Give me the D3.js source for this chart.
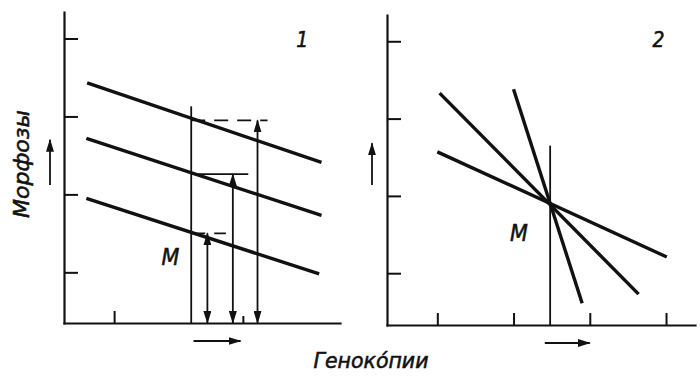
<!DOCTYPE html>
<html>
<head>
<meta charset="utf-8">
<script src="https://cdn.jsdelivr.net/npm/d3@7"></script>
<style>
  body { margin: 0; background: #fff; }
  text { font-family: "DejaVu Sans Condensed", "DejaVu Sans", sans-serif; font-style: italic; fill: #111; stroke: #111; stroke-width: 0.5; }
</style>
</head>
<body>
<script>
//Width and height
var w = 700;
var h = 377;

//Tick positions (same units on both panels)
var yTicks = [1, 2, 3, 4];
var p1XTicks = [1];
var p1XMinorTicks = [2.67];
var p2XTicks = [1, 2, 3, 4];

//Panel 1: three parallel norms of reaction
var p1Lines = [
  [[0.65, 3.43], [3.69, 2.41]],
  [[0.64, 2.72], [3.69, 1.73]],
  [[0.64, 1.95], [3.66, 0.98]]
];
var p1M = 2.0, p1MTop = 3.13;
var p1ArrowX = [2.21, 2.54, 2.86];
var p1Levels = [1.50, 2.26, 2.95];
var p1LevelEnd = [2.45, 2.74, 2.99];
var p1LevelDashed = [true, false, true];

//Panel 2: norms crossing at M
var p2Lines = [
  [[1.00, 2.57], [4.01, 1.21]],
  [[1.03, 3.33], [3.64, 0.73]],
  [[2.00, 3.38], [2.90, 0.61]]
];
var p2M = 2.48, p2MTop = 2.65;

//Labels
var panelNames = ["1", "2"];
var yLabel = "Морфозы";
var xLabel = "Геноко\u0301пии";
var mLabel = "М";

var ink = "#111";

//Create SVG element
var svg = d3.select("body")
            .append("svg")
            .attr("width", w)
            .attr("height", h);

//Arrow head marker
svg.append("defs").append("marker")
   .attr("id", "head")
   .attr("viewBox", "0 0 13 8")
   .attr("refX", 12)
   .attr("refY", 4)
   .attr("markerWidth", 13)
   .attr("markerHeight", 8)
   .attr("markerUnits", "userSpaceOnUse")
   .attr("orient", "auto-start-reverse")
   .append("path")
   .attr("d", "M0,0L13,4L0,8Z")
   .attr("fill", ink);

//Scales for each panel
var x1 = d3.scaleLinear().domain([0.35, 3.93]).range([64, 340]);
var y1 = d3.scaleLinear().domain([0.35, 4.34]).range([323, 12]);
var x2 = d3.scaleLinear().domain([0.34, 4.38]).range([387, 695]);
var y2 = d3.scaleLinear().domain([0.33, 4.34]).range([325, 15]);

function drawAxes(x, y, xTicks) {
  var g = svg.append("g");
  g.append("g")
   .attr("transform", "translate(" + x.range()[0] + ",0)")
   .call(d3.axisRight(y).tickValues(yTicks).tickSize(14).tickSizeOuter(0).tickFormat(""));
  g.append("g")
   .attr("transform", "translate(0," + y.range()[0] + ")")
   .call(d3.axisTop(x).tickValues(xTicks).tickSize(12).tickSizeOuter(0).tickFormat(""));
  g.selectAll("path.domain").attr("stroke", ink).attr("stroke-width", 2.2).attr("stroke-linecap", "square");
  g.selectAll(".tick line").attr("stroke", ink).attr("stroke-width", 2);
  return g;
}

function arrow(x0, y0, xEnd, yEnd, both) {
  var l = svg.append("line")
     .attr("x1", x0).attr("y1", y0)
     .attr("x2", xEnd).attr("y2", yEnd)
     .attr("stroke", ink)
     .attr("stroke-width", 1.8)
     .attr("marker-end", "url(#head)");
  if (both) l.attr("marker-start", "url(#head)");
}

function drawNorms(x, y, lines) {
  var line = d3.line().x(function(d) { return x(d[0]); }).y(function(d) { return y(d[1]); });
  svg.selectAll(null)
     .data(lines)
     .enter()
     .append("path")
     .attr("d", line)
     .attr("fill", "none")
     .attr("stroke", ink)
     .attr("stroke-width", 3.4);
}

//Panel 1
drawAxes(x1, y1, p1XTicks);
svg.append("g")
   .attr("transform", "translate(0," + y1.range()[0] + ")")
   .call(d3.axisTop(x1).tickValues(p1XMinorTicks).tickSize(7).tickFormat(""))
   .call(function(g) { g.select(".domain").remove(); })
   .selectAll(".tick line").attr("stroke", ink).attr("stroke-width", 2);

drawNorms(x1, y1, p1Lines);

svg.append("line")
   .attr("x1", x1(p1M)).attr("x2", x1(p1M))
   .attr("y1", y1(p1MTop)).attr("y2", y1.range()[0])
   .attr("stroke", ink).attr("stroke-width", 1.8);

svg.selectAll(null)
   .data(p1Levels)
   .enter()
   .append("line")
   .attr("x1", x1(p1M))
   .attr("x2", function(d, i) { return x1(p1LevelEnd[i]); })
   .attr("y1", function(d) { return y1(d); })
   .attr("y2", function(d) { return y1(d); })
   .attr("stroke", ink)
   .attr("stroke-width", 1.8)
   .attr("stroke-dasharray", function(d, i) { return p1LevelDashed[i] ? "14,9" : null; });

p1Levels.forEach(function(d, i) {
  arrow(x1(p1ArrowX[i]), y1.range()[0], x1(p1ArrowX[i]), y1(d), true);
});

//Panel 2
drawAxes(x2, y2, p2XTicks);
drawNorms(x2, y2, p2Lines);
svg.append("line")
   .attr("x1", x2(p2M)).attr("x2", x2(p2M))
   .attr("y1", y2(p2MTop)).attr("y2", y2.range()[0])
   .attr("stroke", ink).attr("stroke-width", 1.8);

//Direction arrows beside the axes
arrow(x1.range()[0] - 14, y1(2.12), x1.range()[0] - 14, y1(2.70), false);
arrow(x2.range()[0] - 15, y2(2.14), x2.range()[0] - 15, y2(2.68), false);
arrow(x1(2.03), y1.range()[0] + 18, x1(2.64), y1.range()[0] + 18, false);
arrow(x2(2.41), y2.range()[0] + 18, x2(3.00), y2.range()[0] + 18, false);

//Texts
svg.append("text").attr("x", x1(3.44)).attr("y", y1(3.89)).attr("text-anchor", "middle")
   .attr("font-size", 21).text(panelNames[0]);
svg.append("text").attr("x", x2(3.90)).attr("y", y2(3.93)).attr("text-anchor", "middle")
   .attr("font-size", 21).text(panelNames[1]);
svg.append("text").attr("x", x1(1.73)).attr("y", y1(1.09)).attr("text-anchor", "middle")
   .attr("font-size", 23).text(mLabel);
svg.append("text").attr("x", x2(2.07)).attr("y", y2(1.42)).attr("text-anchor", "middle")
   .attr("font-size", 23).text(mLabel);

svg.append("text")
   .attr("transform", "translate(29,164) rotate(-90)")
   .attr("text-anchor", "middle")
   .attr("font-size", 21)
   .attr("textLength", 108)
   .attr("lengthAdjust", "spacingAndGlyphs")
   .text(yLabel);

svg.append("text")
   .attr("x", 371)
   .attr("y", 368)
   .attr("text-anchor", "middle")
   .attr("font-size", 21)
   .attr("textLength", 115)
   .attr("lengthAdjust", "spacingAndGlyphs")
   .text(xLabel);
</script>
</body>
</html>
